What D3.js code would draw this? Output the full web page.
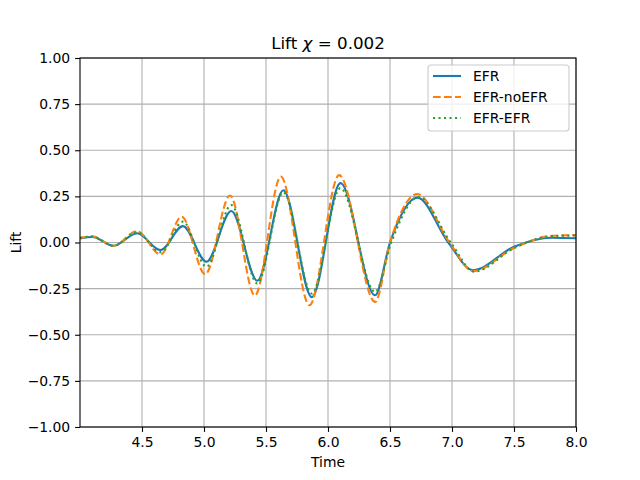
<!DOCTYPE html>
<html><head><meta charset="utf-8">
<script src="https://cdn.jsdelivr.net/npm/d3@7"></script>
<style>body{margin:0;background:#fff}svg{display:block}text{font-family:"DejaVu Sans",sans-serif}</style>
</head><body>
<svg id="c" width="640" height="480"></svg>
<script>
const seriesNames = ["EFR", "EFR-noEFR", "EFR-EFR"];
const efrT = [4.0, 4.1, 4.27, 4.46, 4.65, 4.83, 5.02, 5.22, 5.43, 5.64, 5.87, 6.10, 6.38, 6.50, 6.72, 6.97, 7.17, 7.5, 7.8, 8.0];
const efrV = [0.022, 0.030, -0.018, 0.050, -0.041, 0.089, -0.104, 0.171, -0.207, 0.283, -0.296, 0.322, -0.286, 0.0, 0.243, 0.0, -0.150, -0.023, 0.026, 0.023];
const noT = [4.0, 4.1, 4.27, 4.46, 4.65, 4.82, 5.01, 5.21, 5.41, 5.62, 5.85, 6.09, 6.38, 6.50, 6.72, 6.98, 7.17, 7.5, 7.8, 8.0];
const noV = [0.025, 0.033, -0.018, 0.062, -0.065, 0.140, -0.172, 0.255, -0.287, 0.357, -0.340, 0.365, -0.322, 0.0, 0.262, 0.0, -0.155, -0.030, 0.036, 0.040];
const eeT = [4.0, 4.1, 4.27, 4.46, 4.65, 4.83, 5.02, 5.22, 5.43, 5.64, 5.87, 6.10, 6.38, 6.51, 6.73, 6.99, 7.18, 7.5, 7.8, 8.0];
const eeV = [0.025, 0.032, -0.018, 0.055, -0.052, 0.113, -0.131, 0.203, -0.222, 0.272, -0.277, 0.295, -0.268, 0.0, 0.246, 0.0, -0.158, -0.030, 0.034, 0.038];
const xTicks = [4.5, 5.0, 5.5, 6.0, 6.5, 7.0, 7.5, 8.0];
const yTicks = [-1.0, -0.75, -0.5, -0.25, 0.0, 0.25, 0.5, 0.75, 1.0];

const svg = d3.select("#c");
const L = 80, R = 576, T = 58, B = 427;
const x = d3.scaleLinear().domain([4.0, 8.0]).range([L, R]);
const y = d3.scaleLinear().domain([-1, 1]).range([B, T]);

// grid
const g = svg.append("g");
g.selectAll(".gx").data(xTicks).enter().append("line")
  .attr("x1", d => x(d)).attr("x2", d => x(d)).attr("y1", T).attr("y2", B)
  .attr("stroke", "#b0b0b0").attr("stroke-width", 1.1);
g.selectAll(".gy").data(yTicks).enter().append("line")
  .attr("y1", d => y(d)).attr("y2", d => y(d)).attr("x1", L).attr("x2", R)
  .attr("stroke", "#b0b0b0").attr("stroke-width", 1.1);

svg.append("defs").append("clipPath").attr("id", "clip")
  .append("rect").attr("x", L).attr("y", T).attr("width", R - L).attr("height", B - T);

const line = d3.line().x(d => x(d[0])).y(d => y(d[1])).curve(d3.curveMonotoneX);
const series = [
  {name: seriesNames[0], t: efrT, v: efrV, color: "#1f77b4", dash: null},
  {name: seriesNames[1], t: noT, v: noV, color: "#ff7f0e", dash: "7.7,3.3"},
  {name: seriesNames[2], t: eeT, v: eeV, color: "#2ca02c", dash: "2.1,3.4"}
];
const lg = svg.append("g").attr("clip-path", "url(#clip)");
series.forEach(s => {
  lg.append("path").datum(s.t.map((t, i) => [t, s.v[i]]))
    .attr("d", line).attr("fill", "none").attr("stroke", s.color)
    .attr("stroke-width", 2.1).attr("stroke-dasharray", s.dash);
});

// axes
const xa = svg.append("g").attr("transform", `translate(0,${B})`)
  .call(d3.axisBottom(x).tickValues(xTicks).tickFormat(d3.format(".1f")).tickSize(4.9).tickPadding(4.9));
const ya = svg.append("g").attr("transform", `translate(${L},0)`)
  .call(d3.axisLeft(y).tickValues(yTicks).tickFormat(d3.format(".2f")).tickSize(4.9).tickPadding(4.9));
[xa, ya].forEach(a => {
  a.select(".domain").remove();
  a.selectAll("line").attr("stroke", "#000").attr("stroke-width", 1.1);
  a.selectAll("text").attr("font-size", "13.9px").attr("fill", "#000").attr("font-family", "DejaVu Sans");
});
svg.append("rect").attr("x", L).attr("y", T).attr("width", R - L).attr("height", B - T)
  .attr("fill", "none").attr("stroke", "#000").attr("stroke-width", 1.1);

// title & labels
const title = svg.append("text").attr("x", (L + R) / 2).attr("y", 49).attr("text-anchor", "middle")
  .attr("font-size", "16.7px").attr("fill", "#000");
title.append("tspan").text("Lift ");
title.append("tspan").attr("font-style", "italic").text("χ");
title.append("tspan").text(" = 0.002");
svg.append("text").attr("x", (L + R) / 2).attr("y", 467).attr("text-anchor", "middle")
  .attr("font-size", "13.9px").text("Time");
svg.append("text").attr("transform", `translate(21,${(T + B) / 2}) rotate(-90)`).attr("text-anchor", "middle")
  .attr("font-size", "13.9px").text("Lift");

// legend
const leg = svg.append("g");
leg.append("rect").attr("x", 428).attr("y", 65).attr("width", 141).attr("height", 66).attr("rx", 3)
  .attr("fill", "#fff").attr("fill-opacity", 0.8).attr("stroke", "#cccccc").attr("stroke-width", 1.1);
series.forEach((s, i) => {
  const yy = 76 + i * 21;
  leg.append("line").attr("x1", 433).attr("x2", 461).attr("y1", yy).attr("y2", yy)
    .attr("stroke", s.color).attr("stroke-width", 2.1).attr("stroke-dasharray", s.dash);
  leg.append("text").attr("x", 473).attr("y", yy + 5).attr("font-size", "13.9px").text(s.name);
});
</script>
</body></html>
